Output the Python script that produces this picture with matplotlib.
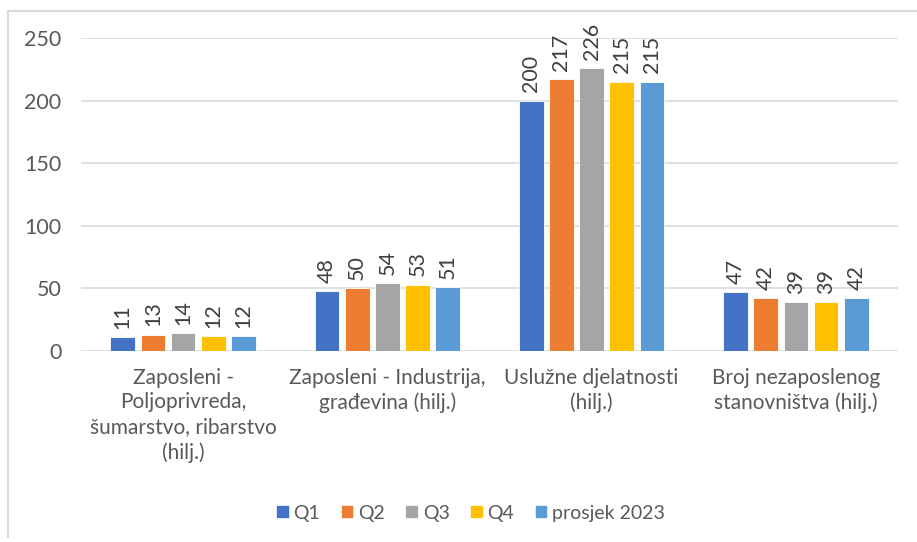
import numpy as np
import matplotlib.pyplot as plt
from matplotlib.lines import Line2D
from matplotlib.patches import Patch

categories = ['Zaposleni -\nPoljoprivreda,\nšumarstvo, ribarstvo\n(hilj.)',
              'Zaposleni - Industrija,\ngrađevina (hilj.)',
              'Uslužne djelatnosti\n(hilj.)',
              'Broj nezaposlenog\nstanovništva (hilj.)']
series = ['Q1', 'Q2', 'Q3', 'Q4', 'prosjek 2023']
q1 = [11, 48, 200, 47]
q2 = [13, 50, 217, 42]
q3 = [14, 54, 226, 39]
q4 = [12, 53, 215, 39]
avg = [12, 51, 215, 42]
colors = ['#4472C4', '#ED7D31', '#A5A5A5', '#FFC000', '#5B9BD5']

plt.rcParams['font.family'] = ['Lato', 'DejaVu Sans']
txt = '#595959'
fs = 15

fig = plt.figure(figsize=(9.17, 5.42), dpi=100)
ax = fig.add_axes([81/917, 1 - 351/542, (898-81)/917, (351-38)/542])

x = np.arange(len(categories))
step = 0.148
width = 0.121
for i, (vals, c) in enumerate(zip([q1, q2, q3, q4, avg], colors)):
    pos = x + (i - 2) * step
    bars = ax.bar(pos, vals, width, color=c, edgecolor='white', linewidth=0.6, zorder=3)
    for b, v in zip(bars, vals):
        ax.annotate(f'{v}', (b.get_x() + b.get_width()/2, v), xytext=(0, 6),
                    textcoords='offset points', rotation=90, ha='center', va='bottom',
                    fontsize=fs + 0.5, color='#404040')

ax.set_xlim(-0.5, 3.5)
ax.set_ylim(0, 250)
ax.set_yticks(range(0, 251, 50))
ax.yaxis.grid(True, color='#D9D9D9', linewidth=1.2, zorder=0)
for s in ax.spines.values():
    s.set_visible(False)
ax.tick_params(axis='both', length=0, labelsize=fs + 0.5, labelcolor=txt)
ax.tick_params(axis='y', pad=14)
ax.set_xticks(x)
ax.set_xticklabels(categories, linespacing=1.3, va='top', fontsize=fs)
ax.tick_params(axis='x', pad=12)

handles = [Patch(color=c) for c in colors]
fig.legend(handles, series, loc='center', bbox_to_anchor=(471/917, 1 - 513/542), ncol=5,
           frameon=False, fontsize=14, handlelength=0.55, handleheight=0.55,
           handletextpad=0.3, columnspacing=1.1, labelcolor=txt)

# chart frame (only top and left edges visible in the crop)
fig.add_artist(Line2D([8/917, 8/917], [1 - 537/542, 1 - 11/542], color='#D9D9D9', lw=1.5))
fig.add_artist(Line2D([8/917, 1], [1 - 11/542, 1 - 11/542], color='#D9D9D9', lw=1.5))

plt.savefig('out.png', dpi=100)
